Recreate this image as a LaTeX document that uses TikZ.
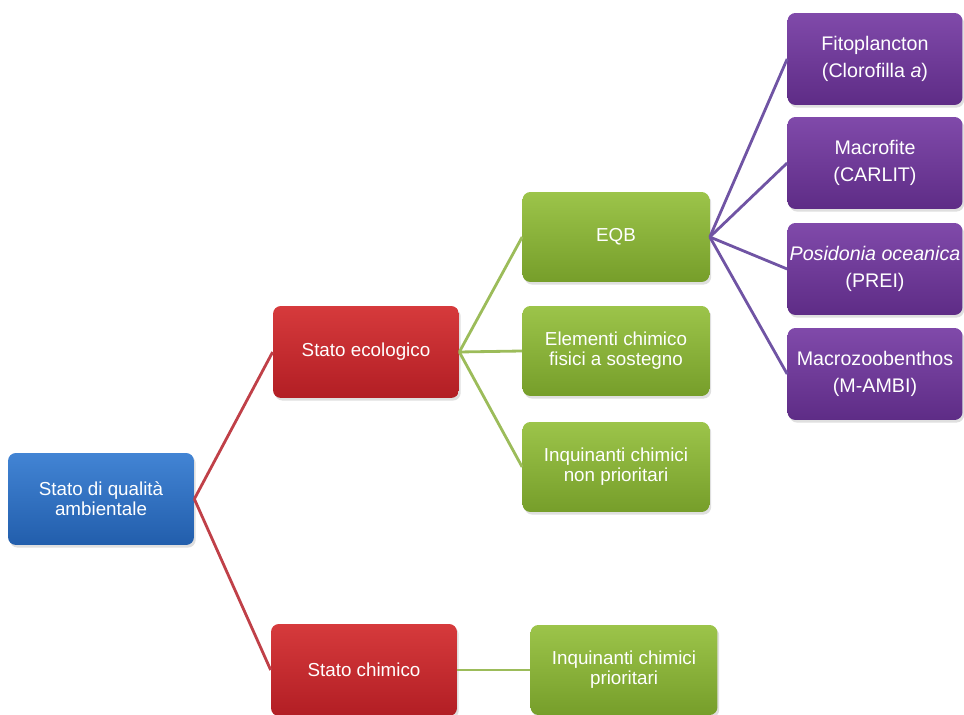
\documentclass[tikz,border=0pt]{standalone}
\usepackage{fontspec}
\setmainfont{Liberation Sans}
\usepackage{xcolor}
\usepackage{tikz}
\usetikzlibrary{shadows, positioning}

\definecolor{bluetop}{RGB}{66,132,212}
\definecolor{bluebot}{RGB}{34,94,172}
\definecolor{redtop}{RGB}{214,58,60}
\definecolor{redbot}{RGB}{178,30,36}
\definecolor{greentop}{RGB}{156,196,74}
\definecolor{greenbot}{RGB}{118,158,42}
\definecolor{purpletop}{RGB}{128,74,170}
\definecolor{purplebot}{RGB}{94,44,134}
\definecolor{redline}{RGB}{192,64,72}
\definecolor{greenline}{RGB}{156,188,90}
\definecolor{purpleline}{RGB}{112,84,164}

\begin{document}
\begin{tikzpicture}[x=0.02cm, y=-0.02cm]
    % Block styles
    \tikzstyle{block} = [rectangle, rounded corners=4.5pt, text=white, align=center, inner sep=2pt,
        minimum width=3.72cm, minimum height=1.84cm, font=\fontsize{10.7}{11.5}\selectfont,
        drop shadow={opacity=0.25, shadow xshift=1pt, shadow yshift=-1.5pt}]
    \tikzstyle{blueblock} = [block, top color=bluetop, bottom color=bluebot]
    \tikzstyle{redblock} = [block, top color=redtop, bottom color=redbot]
    \tikzstyle{greenblock} = [block, top color=greentop, bottom color=greenbot, minimum width=3.74cm, minimum height=1.8cm]
    \tikzstyle{purpleblock} = [block, top color=purpletop, bottom color=purplebot, minimum width=3.5cm,
        inner xsep=0pt, font=\fontsize{11.2}{15}\selectfont]
    \useasboundingbox (0,0) rectangle (964,715);

    % Root and second level
    \node[blueblock] (qualita) at (101,499) {Stato di qualità\\ambientale};
    \node[redblock] (ecologico) at (366,352) {Stato ecologico};
    \node[redblock] (chimico) at (364,670) {Stato chimico};

    % Third level
    \node[greenblock] (eqb) at (616,237) {EQB};
    \node[greenblock] (elementi) at (616,351) {Elementi chimico\\fisici a sostegno};
    \node[greenblock] (nonprio) at (616,467) {Inquinanti chimici\\non prioritari};
    \node[greenblock] (prio) at (624,670) {Inquinanti chimici\\prioritari};

    % Biological quality elements
    \node[purpleblock] (fito) at (875,59) {Fitoplancton\\(Clorofilla \textit{a})};
    \node[purpleblock] (macrofite) at (875,163) {Macrofite\\(CARLIT)};
    \node[purpleblock] (posidonia) at (875,269) {\textit{Posidonia oceanica}\\(PREI)};
    \node[purpleblock] (zoobenthos) at (875,374) {Macrozoobenthos\\(M-AMBI)};

    % Connections
    \draw[redline, line width=1.6pt] (qualita.east) -- (ecologico.west);
    \draw[redline, line width=1.6pt] (qualita.east) -- (chimico.west);
    \draw[greenline, line width=1.6pt] (ecologico.east) -- (eqb.west);
    \draw[greenline, line width=1.6pt] (ecologico.east) -- (elementi.west);
    \draw[greenline, line width=1.6pt] (ecologico.east) -- (nonprio.west);
    \draw[greenline, line width=1.6pt] (chimico.east) -- (prio.west);
    \draw[purpleline, line width=1.6pt] (eqb.east) -- (fito.west);
    \draw[purpleline, line width=1.6pt] (eqb.east) -- (macrofite.west);
    \draw[purpleline, line width=1.6pt] (eqb.east) -- (posidonia.west);
    \draw[purpleline, line width=1.6pt] (eqb.east) -- (zoobenthos.west);
\end{tikzpicture}
\end{document}
